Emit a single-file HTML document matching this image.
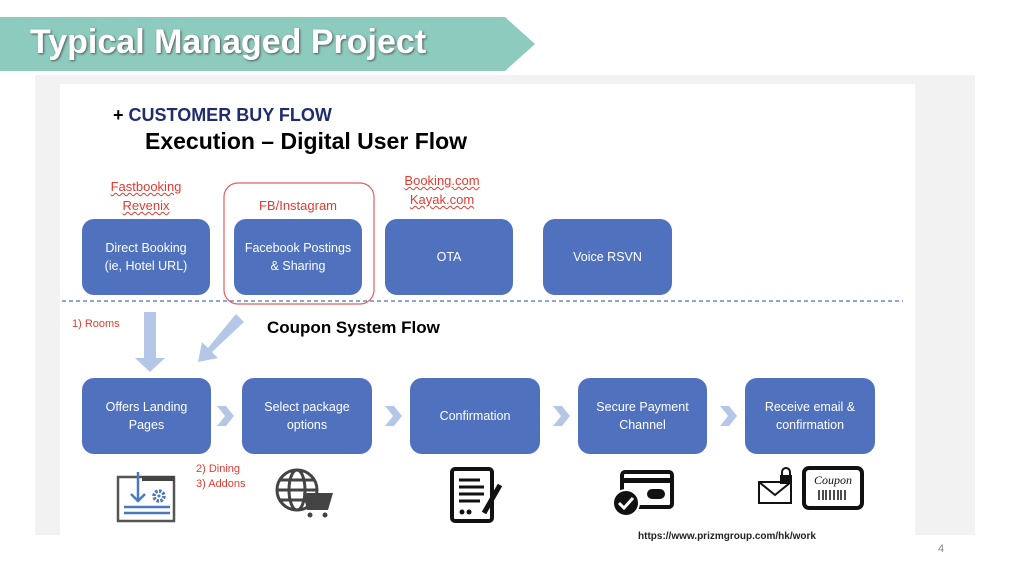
<!DOCTYPE html>
<html><head><style>
body{margin:0;width:1024px;height:574px;background:#fff;position:relative;overflow:hidden;font-family:"Liberation Sans",sans-serif}
.a{position:absolute}
.b{position:absolute;background:#4f71be;border-radius:12px;color:#fff;font-size:12.5px;display:flex;align-items:center;justify-content:center;text-align:center;line-height:18px}
.r{position:absolute;color:#e03c31;font-size:13px;text-align:center;line-height:19px;text-decoration:underline wavy #e03c31;text-decoration-thickness:1px}
</style></head><body>
<svg class="a" style="left:0;top:0" width="1024" height="574">
<polygon points="0,17 505,17 535,44 505,71 0,71" fill="#8ccbbd"/>
<rect x="35" y="75" width="940" height="460" fill="#f2f2f2"/>
<rect x="60" y="84" width="855" height="451" fill="#fff"/>
<line x1="62" y1="301" x2="903" y2="301" stroke="#4f71be" stroke-width="1.3" stroke-dasharray="4,3"/>
<rect x="224" y="183" width="150" height="121" rx="14" fill="none" stroke="#e06060" stroke-width="1.2"/>
<polygon points="144,312 156,312 156,358 165,358 150,372 135,358 144,358" fill="#b4c7e7"/>
<polygon points="236,314 244,322 212,352 218,358 198,362 202,342 208,348" fill="#b4c7e7"/>
<g fill="#b4c7e7">
<polygon points="217,406 226,406 234,416 226,426 217,426 225,416"/>
<polygon points="385,406 394,406 402,416 394,426 385,426 393,416"/>
<polygon points="553,406 562,406 570,416 562,426 553,426 561,416"/>
<polygon points="720,406 729,406 737,416 729,426 720,426 728,416"/>
</g>
<g stroke="#555" fill="none" stroke-width="2.5"><rect x="118" y="477" width="56" height="44"/></g>
<rect x="142" y="476" width="32" height="5" fill="#444"/>
<g stroke="#4a78c0" stroke-width="2.5" fill="none"><line x1="138" y1="472" x2="138" y2="500"/><polyline points="131,494 138,501 145,494"/><line x1="124" y1="507" x2="170" y2="507"/><line x1="124" y1="513" x2="170" y2="513"/><circle cx="159" cy="496" r="5" stroke-width="3.5" stroke-dasharray="2.5,1.4"/><circle cx="159" cy="496" r="1.5" fill="#4a78c0" stroke="none"/></g>
<g stroke="#444" stroke-width="3" fill="none"><circle cx="297" cy="490" r="20"/><ellipse cx="297" cy="490" rx="8" ry="20"/><line x1="277" y1="490" x2="317" y2="490"/><line x1="280" y1="480" x2="314" y2="480"/><line x1="280" y1="500" x2="314" y2="500"/></g>
<polygon points="303,493 333,493 328,510 307,510" fill="#444"/>
<circle cx="310" cy="515" r="2.5" fill="#444"/><circle cx="325" cy="515" r="2.5" fill="#444"/>
<rect x="452" y="469" width="40" height="52" rx="3" fill="none" stroke="#111" stroke-width="4"/>
<g stroke="#111" stroke-width="3"><line x1="459" y1="480" x2="480" y2="480"/><line x1="459" y1="487" x2="484" y2="487"/><line x1="459" y1="494" x2="484" y2="494"/><line x1="459" y1="501" x2="480" y2="501"/></g>
<line x1="500" y1="485" x2="484" y2="513" stroke="#111" stroke-width="5"/>
<circle cx="462" cy="512" r="2.5" fill="#111"/><circle cx="469" cy="512" r="2.5" fill="#111"/>
<rect x="622" y="472" width="50" height="35" rx="3" fill="none" stroke="#111" stroke-width="4"/>
<rect x="622" y="478" width="50" height="5" fill="#111"/>
<rect x="647" y="489" width="18" height="10" rx="5" fill="#111"/>
<circle cx="626" cy="503" r="13" fill="#111" stroke="#fff" stroke-width="2"/>
<polyline points="619,503 624,508 633,498" stroke="#fff" stroke-width="3" fill="none"/>
<rect x="759" y="482" width="32" height="21" fill="#fff" stroke="#111" stroke-width="2"/>
<polyline points="759,482 775,495 791,482" stroke="#111" stroke-width="2" fill="none"/>
<rect x="780" y="475" width="12" height="9" fill="#111"/><path d="M782,476 v-4 a4,4 0 0 1 8,0 v4" stroke="#111" stroke-width="2" fill="none"/>
<rect x="804" y="468" width="58" height="40" rx="5" fill="none" stroke="#111" stroke-width="4"/>
<text x="833" y="484" font-family="Liberation Serif" font-style="italic" font-size="12" text-anchor="middle" fill="#111">Coupon</text>
<g stroke="#111" stroke-width="1.5"><line x1="819" y1="490" x2="819" y2="500"/><line x1="823" y1="490" x2="823" y2="500"/><line x1="826" y1="490" x2="826" y2="500"/><line x1="830" y1="490" x2="830" y2="500"/><line x1="834" y1="490" x2="834" y2="500"/><line x1="838" y1="490" x2="838" y2="500"/><line x1="841" y1="490" x2="841" y2="500"/><line x1="845" y1="490" x2="845" y2="500"/></g>
</svg>
<div class="a" style="left:30px;top:23px;font-size:34px;font-weight:bold;color:#fff;text-shadow:1px 1px 2px #555">Typical Managed Project</div>
<div class="a" style="left:113px;top:105px;font-size:18px;font-weight:bold;color:#1f2d6e"><span style="color:#000">+ </span>CUSTOMER BUY FLOW</div>
<div class="a" style="left:145px;top:128px;font-size:23px;font-weight:bold;color:#000">Execution – Digital User Flow</div>
<div class="r" style="left:82px;top:177px;width:128px">Fastbooking<br>Revenix</div>
<div class="r" style="left:234px;top:196px;width:128px;text-decoration:none">FB/Instagram</div>
<div class="r" style="left:378px;top:171px;width:128px">Booking.com<br>Kayak.com</div>
<div class="b" style="left:82px;top:219px;width:128px;height:76px">Direct Booking<br>(ie, Hotel URL)</div>
<div class="b" style="left:234px;top:219px;width:128px;height:76px">Facebook Postings<br>&amp; Sharing</div>
<div class="b" style="left:385px;top:219px;width:128px;height:76px">OTA</div>
<div class="b" style="left:543px;top:219px;width:129px;height:76px">Voice RSVN</div>
<div class="a" style="left:72px;top:318px;font-size:11px;color:#e03c31">1) Rooms</div>
<div class="a" style="left:267px;top:318px;font-size:17px;font-weight:bold;color:#000">Coupon System Flow</div>
<div class="b" style="left:82px;top:378px;width:129px;height:76px">Offers Landing<br>Pages</div>
<div class="b" style="left:242px;top:378px;width:130px;height:76px">Select package<br>options</div>
<div class="b" style="left:410px;top:378px;width:130px;height:76px">Confirmation</div>
<div class="b" style="left:578px;top:378px;width:129px;height:76px">Secure Payment<br>Channel</div>
<div class="b" style="left:745px;top:378px;width:130px;height:76px">Receive email &amp;<br>confirmation</div>
<div class="a" style="left:196px;top:462px;font-size:11px;color:#e03c31;line-height:15px">2) Dining<br>3) Addons</div>
<div class="a" style="left:638px;top:531px;font-size:10px;font-weight:bold;color:#222">https://www.prizmgroup.com/hk/work</div>
<div class="a" style="left:938px;top:543px;font-size:11px;color:#888">4</div>
</body></html>
